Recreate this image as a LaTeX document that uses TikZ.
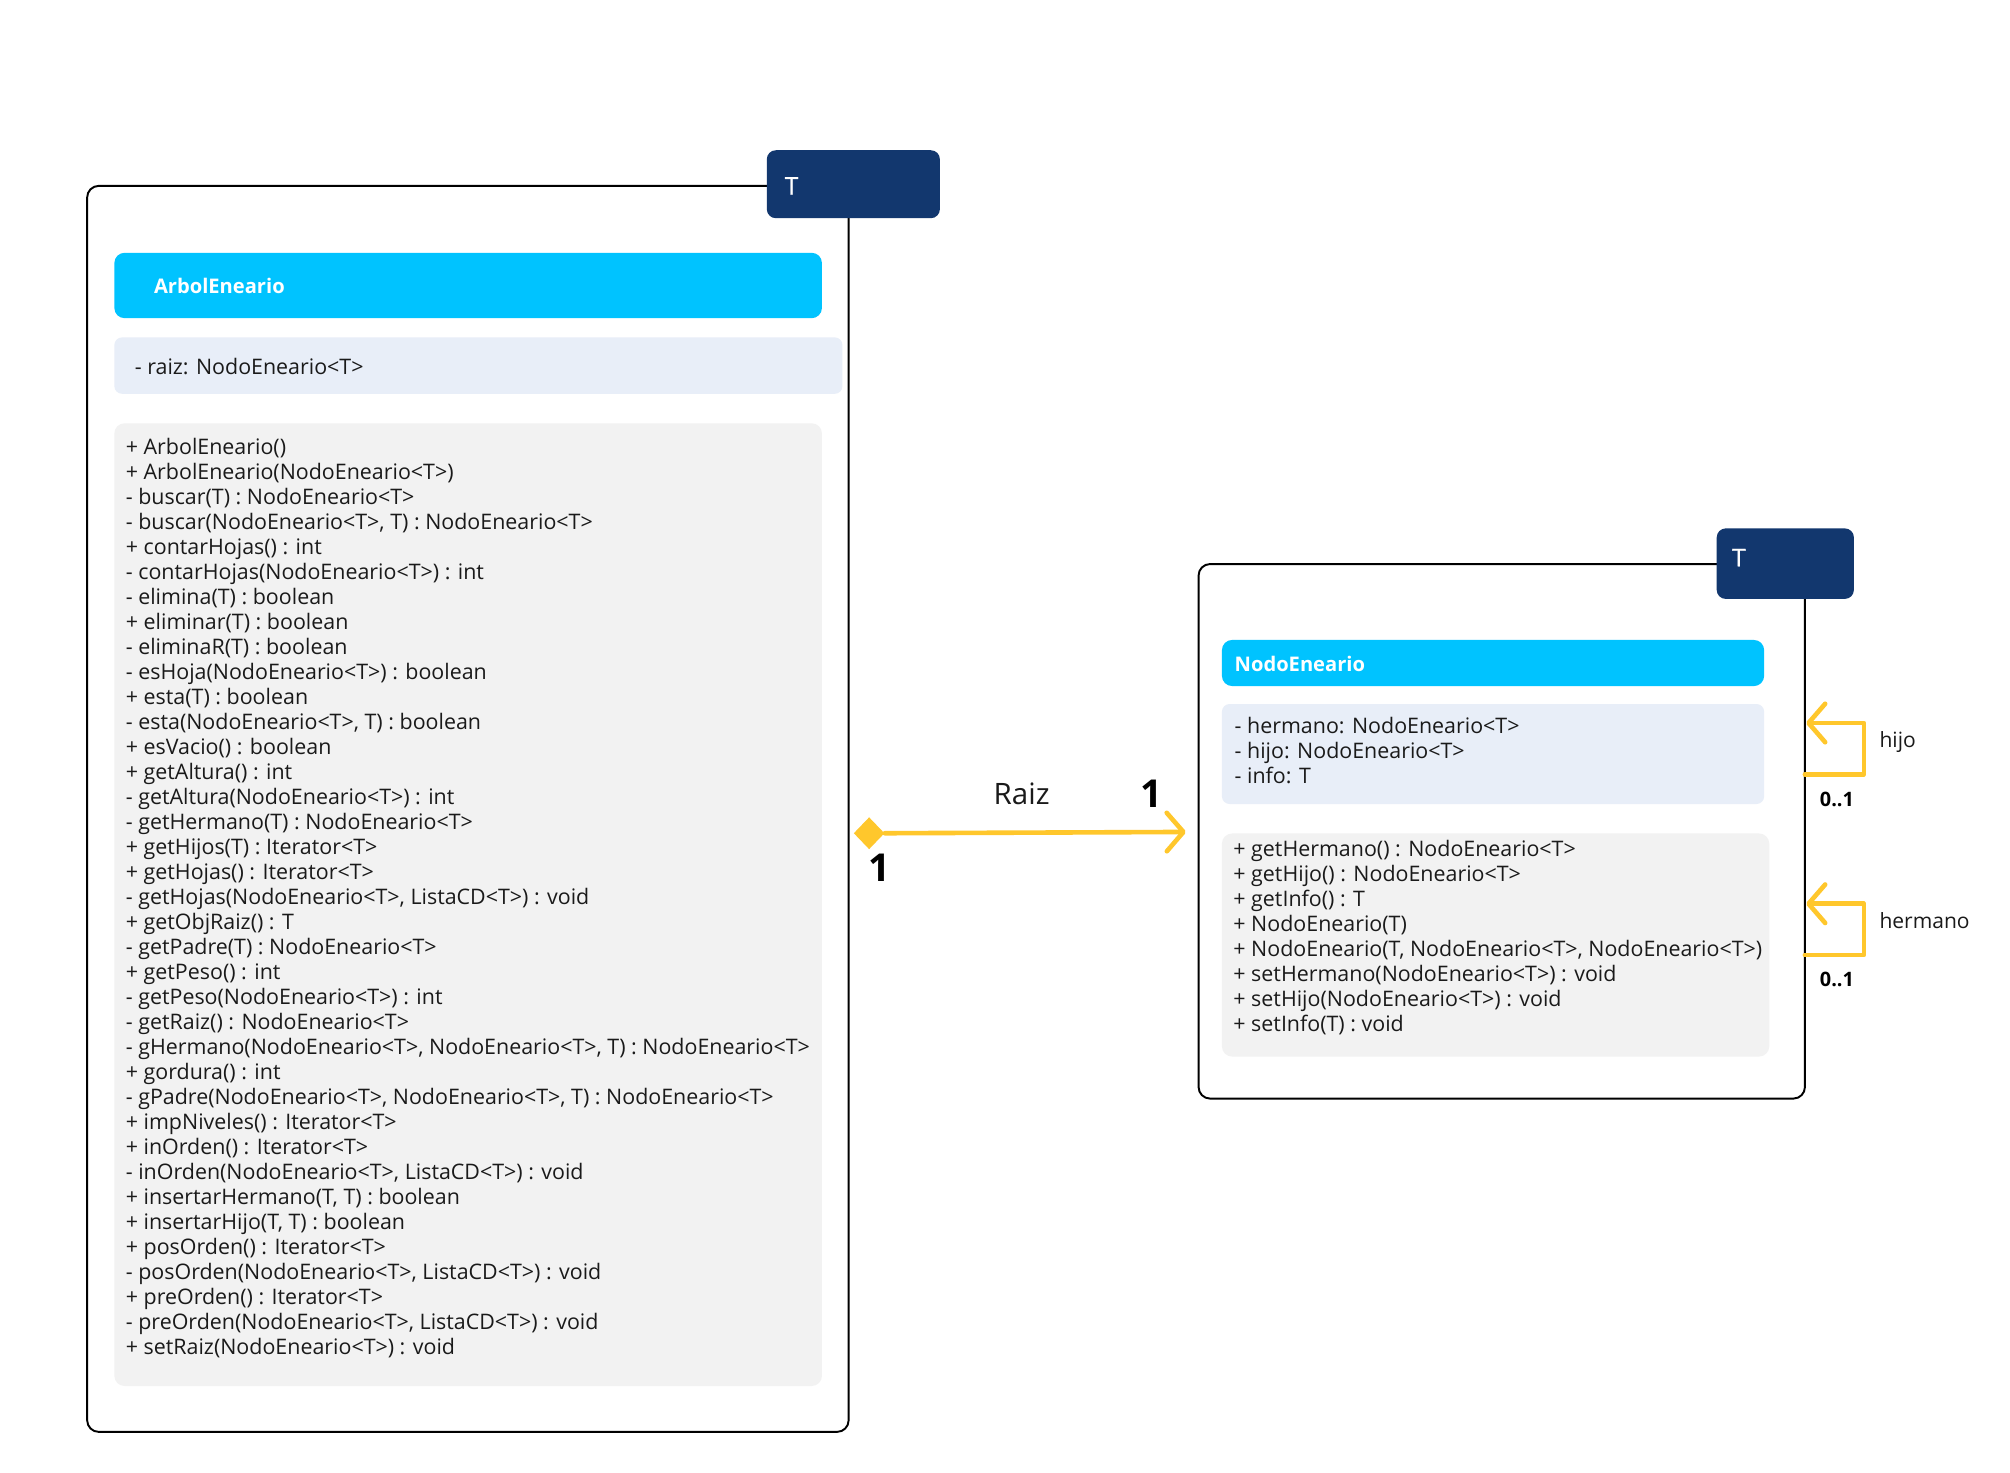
\documentclass[tikz,border=0pt]{standalone}
\usepackage{fontspec}
\setmainfont{Open Sans}
\newfontfamily\tabfont{Open Sans}[FakeBold=1.2]
\usetikzlibrary{arrows.meta,shapes.geometric}
\definecolor{navy}{HTML}{12376E}
\definecolor{cyanbar}{HTML}{00C3FF}
\definecolor{attrbg}{HTML}{E8EEF8}
\definecolor{methbg}{HTML}{F2F2F2}
\definecolor{assoc}{HTML}{FFC72C}
\definecolor{txt}{HTML}{1A1A1A}
\tikzset{
  outerbox/.style={draw=black,line width=1.5pt,rounded corners=9pt,fill=white},
  tabbox/.style={fill=navy,rounded corners=7pt},
  titlebar/.style={fill=cyanbar,rounded corners=8pt},
  attrbox/.style={fill=attrbg,rounded corners=6pt},
  methbox/.style={fill=methbg,rounded corners=8pt},
  tabtext/.style={anchor=west,inner sep=0pt,text=white,font=\tabfont\fontsize{19}{21}\selectfont},
  titletext/.style={anchor=west,inner sep=0pt,text=white,font=\fontsize{15.7}{19}\selectfont\bfseries},
  members/.style={anchor=north west,inner sep=0pt,align=left,text=txt,font=\fontsize{16.7}{19.5}\selectfont},
  assocline/.style={draw=assoc,line width=3.6pt,line cap=round,line join=round},
  assoctip/.style={-{Straight Barb[length=13pt,width=30pt,line cap=round,line join=round]}},
  rolelabel/.style={inner sep=0pt,text=txt,font=\fontsize{16.4}{19}\selectfont},
  multbig/.style={inner sep=0pt,text=black,font=\fontsize{30}{34}\selectfont\bfseries},
  multsmall/.style={inner sep=0pt,text=black,font=\fontsize{15.5}{18}\selectfont\bfseries},
}
\begin{document}
\begin{tikzpicture}[x=1pt,y=-1pt]
\useasboundingbox[fill=white] (0,0) rectangle (1568,1149);

% ---------- ArbolEneario ----------
\draw[outerbox] (68,145) rectangle (662,1117);
\node[tabbox,minimum width=135pt,minimum height=53pt,anchor=north west] (tabA) at (598,117) {};
\node[tabtext] (tabAT) at (612,145) {T};
\node[titlebar,minimum width=552pt,minimum height=51pt,anchor=north west] (titleA) at (89,197) {};
\node[titletext] (titleAT) at (120,223) {ArbolEneario};
\node[attrbox,minimum width=568pt,minimum height=44pt,anchor=north west] (attrA) at (89,263) {};
\node[members,anchor=west] (attrAT) at (105,286) {- raiz: NodoEneario<T>};
\node[methbox,minimum width=552pt,minimum height=751pt,anchor=north west] (methA) at (89,330) {};
\node[members] (methAT) at (98,341.5) {+ ArbolEneario()\\
+ ArbolEneario(NodoEneario<T>)\\
- buscar(T) : NodoEneario<T>\\
- buscar(NodoEneario<T>, T) : NodoEneario<T>\\
+ contarHojas() : int\\
- contarHojas(NodoEneario<T>) : int\\
- elimina(T) : boolean\\
+ eliminar(T) : boolean\\
- eliminaR(T) : boolean\\
- esHoja(NodoEneario<T>) : boolean\\
+ esta(T) : boolean\\
- esta(NodoEneario<T>, T) : boolean\\
+ esVacio() : boolean\\
+ getAltura() : int\\
- getAltura(NodoEneario<T>) : int\\
- getHermano(T) : NodoEneario<T>\\
+ getHijos(T) : Iterator<T>\\
+ getHojas() : Iterator<T>\\
- getHojas(NodoEneario<T>, ListaCD<T>) : void\\
+ getObjRaiz() : T\\
- getPadre(T) : NodoEneario<T>\\
+ getPeso() : int\\
- getPeso(NodoEneario<T>) : int\\
- getRaiz() : NodoEneario<T>\\
- gHermano(NodoEneario<T>, NodoEneario<T>, T) : NodoEneario<T>\\
+ gordura() : int\\
- gPadre(NodoEneario<T>, NodoEneario<T>, T) : NodoEneario<T>\\
+ impNiveles() : Iterator<T>\\
+ inOrden() : Iterator<T>\\
- inOrden(NodoEneario<T>, ListaCD<T>) : void\\
+ insertarHermano(T, T) : boolean\\
+ insertarHijo(T, T) : boolean\\
+ posOrden() : Iterator<T>\\
- posOrden(NodoEneario<T>, ListaCD<T>) : void\\
+ preOrden() : Iterator<T>\\
- preOrden(NodoEneario<T>, ListaCD<T>) : void\\
+ setRaiz(NodoEneario<T>) : void};

% ---------- NodoEneario ----------
\draw[outerbox] (935,440) rectangle (1408,857);
\node[tabbox,minimum width=107pt,minimum height=55pt,anchor=north west] (tabN) at (1339,412) {};
\node[tabtext] (tabNT) at (1351,435) {T};
\node[titlebar,minimum width=423pt,minimum height=36pt,anchor=north west] (titleN) at (953,499) {};
\node[titletext] (titleNT) at (963,518) {NodoEneario};
\node[attrbox,minimum width=423pt,minimum height=78pt,anchor=north west] (attrN) at (953,549) {};
\node[members] (attrNT) at (963,559) {- hermano: NodoEneario<T>\\
- hijo: NodoEneario<T>\\
- info: T};
\node[methbox,minimum width=427pt,minimum height=174pt,anchor=north west] (methN) at (953,650) {};
\node[members] (methNT) at (962,655) {+ getHermano() : NodoEneario<T>\\
+ getHijo() : NodoEneario<T>\\
+ getInfo() : T\\
+ NodoEneario(T)\\
+ NodoEneario(T, NodoEneario<T>, NodoEneario<T>)\\
+ setHermano(NodoEneario<T>) : void\\
+ setHijo(NodoEneario<T>) : void\\
+ setInfo(T) : void};

% ---------- Association Raiz ----------
\node[diamond,fill=assoc,inner sep=0pt,minimum width=24pt,minimum height=25pt] (dia) at (678,650) {};
\coordinate (raizEnd) at (925,649);
\draw[assocline,assoctip] (dia.east) -- (raizEnd);
\node[rolelabel,font=\fontsize{23}{26}\selectfont] (raizL) at (797,619) {Raiz};
\node[multbig] (multR) at (898,619) {1};
\node[multbig] (multL) at (686,677) {1};

% ---------- Self associations ----------
\coordinate (hijoS) at (1408,604);
\coordinate (hijoE) at (1409,564);
\draw[assocline,assoctip] (hijoS) -- ++(46,0) |- (hijoE);
\node[rolelabel,anchor=west] (hijoL) at (1466,579) {hijo};
\node[multsmall] (hijoM) at (1433,624) {0..1};

\coordinate (hermS) at (1408,745);
\coordinate (hermE) at (1409,705);
\draw[assocline,assoctip] (hermS) -- ++(46,0) |- (hermE);
\node[rolelabel,anchor=west] (hermL) at (1466,718) {hermano};
\node[multsmall] (hermM) at (1433,764) {0..1};
\end{tikzpicture}
\end{document}
